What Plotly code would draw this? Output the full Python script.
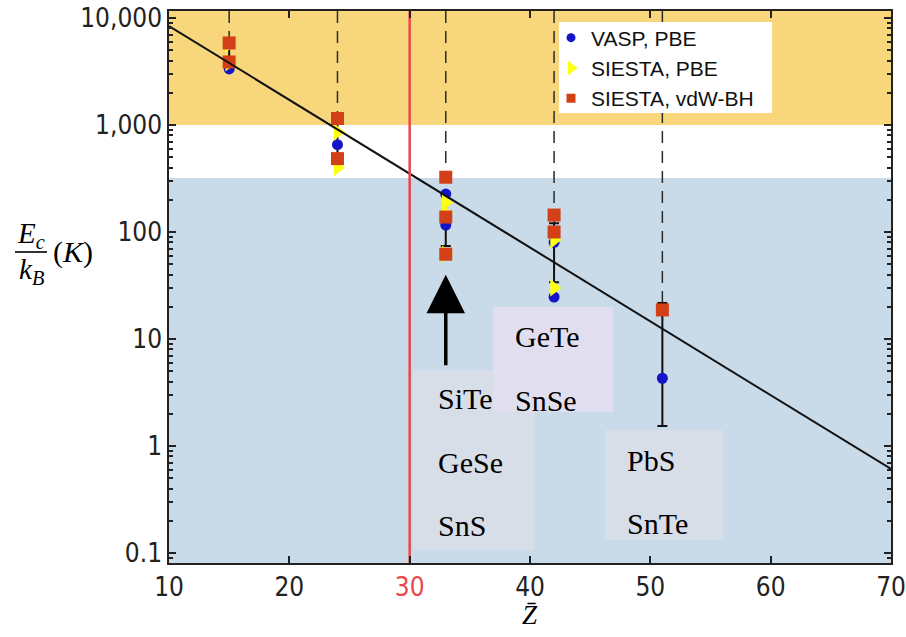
import plotly.graph_objects as go

# Average atomic number of each compound group
z_groups = [15, 24, 33, 42, 51]

# Ec/kB (K) from each calculation method
vasp_z = [15, 24, 33, 33, 42, 42, 51]
vasp_ec = [3340, 655, 226, 116, 80, 24.7, 4.3]

siesta_pbe_z = [15, 15, 24, 24, 33, 33, 33, 42, 42]
siesta_pbe_ec = [5700, 3800, 860, 400, 188, 150, 62, 84, 30]

siesta_vdw_z = [15, 15, 24, 24, 33, 33, 33, 42, 42, 51]
siesta_vdw_ec = [5840, 3880, 1150, 485, 325, 138, 62, 144, 100, 18.7]

# Spread of the results at each Z
err_low = [3800, 470, 74, 34, 1.54]
err_high = [5900, 1230, 226, 121, 21.7]

# Exponential fit
fit_z = [10, 70]
fit_ec = [8400, 0.61]

threshold_z = 30

# Temperature bands (K)
hot_band_min = 1000
cold_band_max = 320

# Compounds per group
group_labels = [["SiTe", "GeSe", "SnS"], ["GeTe", "SnSe"], ["PbS", "SnTe"]]

# Axis ticks
x_ticks = [10, 20, 30, 40, 50, 60, 70]
y_ticks = [0.1, 1, 10, 100, 1000, 10000]
y_ticktext = ["0.1", "1", "10", "100", "1,000", "10,000"]

X_RANGE = [10, 70]
Y_RANGE_LOG = [-1.093, 4.065]
y_bottom = 10 ** Y_RANGE_LOG[0]
y_top = 10 ** Y_RANGE_LOG[1]

YELLOW = "#f8d77c"
BLUE_BG = "#c9dae8"
RED_LINE = "#e8474b"

fig = go.Figure()

# background bands
fig.add_trace(go.Scatter(
    x=[X_RANGE[0], X_RANGE[1], X_RANGE[1], X_RANGE[0]],
    y=[hot_band_min, hot_band_min, y_top, y_top],
    fill="toself", fillcolor=YELLOW, mode="lines", line=dict(width=0),
    hoverinfo="skip", showlegend=False))
fig.add_trace(go.Scatter(
    x=[X_RANGE[0], X_RANGE[1], X_RANGE[1], X_RANGE[0]],
    y=[y_bottom, y_bottom, cold_band_max, cold_band_max],
    fill="toself", fillcolor=BLUE_BG, mode="lines", line=dict(width=0),
    hoverinfo="skip", showlegend=False))

# dashed guides from the top of the frame down to each group
for z, hi in zip(z_groups, err_high):
    fig.add_trace(go.Scatter(
        x=[z, z], y=[y_top, hi], mode="lines",
        line=dict(color="#2a2a2a", width=1.5, dash="12px,8px"),
        hoverinfo="skip", showlegend=False))

# error bars spanning the spread of each group
fig.add_trace(go.Scatter(
    x=z_groups, y=err_low, mode="markers",
    marker=dict(size=1, color="rgba(0,0,0,0)"),
    error_y=dict(type="data", symmetric=False,
                 array=[h - l for h, l in zip(err_high, err_low)],
                 arrayminus=[0] * len(err_low),
                 color="#111111", thickness=2, width=5),
    hoverinfo="skip", showlegend=False))

# data points
fig.add_trace(go.Scatter(
    x=vasp_z, y=vasp_ec, mode="markers", showlegend=False,
    marker=dict(symbol="circle", size=11, color="#1414c8")))
fig.add_trace(go.Scatter(
    x=siesta_pbe_z, y=siesta_pbe_ec, mode="markers", showlegend=False,
    marker=dict(symbol="triangle-right", size=15, color="#ffff10")))
fig.add_trace(go.Scatter(
    x=siesta_vdw_z, y=siesta_vdw_ec, mode="markers", showlegend=False,
    marker=dict(symbol="square", size=13, color="#d33f16")))

# fit line
fig.add_trace(go.Scatter(
    x=fit_z, y=fit_ec, mode="lines", line=dict(color="#111111", width=2),
    hoverinfo="skip", showlegend=False))

# threshold line
fig.add_trace(go.Scatter(
    x=[threshold_z, threshold_z], y=[y_bottom, y_top], mode="lines",
    line=dict(color=RED_LINE, width=2.5), hoverinfo="skip", showlegend=False))

# legend entries
for name, sym, col in [("VASP, PBE", "circle", "#1414c8"),
                       ("SIESTA, PBE", "triangle-right", "#ffff10"),
                       ("SIESTA, vdW-BH", "square", "#d33f16")]:
    fig.add_trace(go.Scatter(
        x=[None], y=[None], mode="markers", name=name,
        marker=dict(symbol=sym, size=9 if sym != "triangle-right" else 13, color=col)))


def px_x(p):
    return (p - 169) / 722


def px_y(p):
    return 1 - (p - 11) / 552


shapes = [
    # legend background
    dict(type="rect", xref="paper", yref="paper", layer="above",
         x0=px_x(559), x1=px_x(772), y0=px_y(113), y1=px_y(22),
         fillcolor="white", line=dict(width=0)),
    # compound label boxes
    dict(type="rect", xref="paper", yref="paper", layer="above",
         x0=px_x(413), x1=px_x(535), y0=px_y(550), y1=px_y(370),
         fillcolor="#d8dee8", line=dict(width=0)),
    dict(type="rect", xref="paper", yref="paper", layer="above",
         x0=px_x(493), x1=px_x(613), y0=px_y(412), y1=px_y(307),
         fillcolor="#e1dfef", line=dict(width=0)),
    dict(type="rect", xref="paper", yref="paper", layer="above",
         x0=px_x(605), x1=px_x(723), y0=px_y(540), y1=px_y(430),
         fillcolor="#d8dee8", line=dict(width=0)),
    # fraction bar of the y-axis title
    dict(type="line", xref="paper", yref="paper",
         x0=px_x(15), x1=px_x(47), y0=px_y(252), y1=px_y(252),
         line=dict(color="black", width=1.6)),
]

serif = "Liberation Serif, Times New Roman, serif"
annotations = []

label_pos = [(436, [398, 462, 525]), (513, [336, 400]), (625, [460, 523])]
for names, (lx, lys) in zip(group_labels, label_pos):
    for name, ly in zip(names, lys):
        annotations.append(dict(
            text=name, xref="paper", yref="paper", x=px_x(lx), y=px_y(ly),
            xanchor="left", yanchor="middle", showarrow=False,
            font=dict(family=serif, size=30, color="black")))

# arrow pointing at the Z = 33 group
annotations.append(dict(
    x=z_groups[2], y=1.60, xref="x", yref="y", ax=0, ay=92,
    showarrow=True, arrowhead=2, arrowsize=2.2, arrowwidth=3.5,
    arrowcolor="black", text=""))

# y-axis title as a fraction
annotations += [
    dict(text="<i>E</i><sub><i>c</i></sub>", xref="paper", yref="paper",
         x=px_x(31), y=px_y(235), showarrow=False, xanchor="center", yanchor="middle",
         font=dict(family=serif, size=29, color="black")),
    dict(text="<i>k</i><sub><i>B</i></sub>", xref="paper", yref="paper",
         x=px_x(31), y=px_y(271), showarrow=False, xanchor="center", yanchor="middle",
         font=dict(family=serif, size=29, color="black")),
    dict(text="(<i>K</i>)", xref="paper", yref="paper",
         x=px_x(73), y=px_y(252), showarrow=False, xanchor="center", yanchor="middle",
         font=dict(family=serif, size=30, color="black")),
    dict(text="<i>Z\u0304</i>", xref="paper", yref="paper",
         x=px_x(530), y=px_y(615), showarrow=False, xanchor="center", yanchor="middle",
         font=dict(family=serif, size=27, color="black")),
]

x_ticktext = [f"<span style='color:{RED_LINE}'>{v}</span>" if v == threshold_z else str(v)
              for v in x_ticks]

minor_vals = [m * 10 ** e for e in range(-2, 5) for m in range(2, 10)]

tick_font = dict(family="DejaVu Sans Condensed, Liberation Sans Narrow, Arial Narrow, Liberation Sans",
                 size=26, color="#222222")

fig.update_layout(
    width=906, height=637,
    margin=dict(l=169, r=15, t=11, b=74, autoexpand=False),
    plot_bgcolor="white", paper_bgcolor="white",
    shapes=shapes, annotations=annotations,
    showlegend=True,
    legend=dict(x=px_x(551), y=px_y(17.5), xanchor="left", yanchor="top",
                bgcolor="rgba(0,0,0,0)", borderwidth=0,
                font=dict(family="Liberation Sans, Arial", size=21, color="#111111"),
                tracegroupgap=0, itemwidth=30),
    xaxis=dict(range=X_RANGE, tickmode="array", tickvals=x_ticks, ticktext=x_ticktext,
               ticks="inside", ticklen=7, tickwidth=1.5, tickcolor="#222",
               showline=True, linecolor="#222", linewidth=1.5, mirror="ticks",
               showgrid=False, zeroline=False, tickfont=tick_font, automargin=False),
    yaxis=dict(type="log", range=Y_RANGE_LOG, tickmode="array", tickvals=y_ticks,
               ticktext=y_ticktext, ticks="inside", ticklen=7, tickwidth=1.5,
               tickcolor="#222", showline=True, linecolor="#222", linewidth=1.5,
               mirror="ticks", showgrid=False, zeroline=False, tickfont=tick_font,
               automargin=False,
               minor=dict(tickmode="array", tickvals=minor_vals, ticks="inside",
                          ticklen=4, tickcolor="#222", showgrid=False)),
)

fig.write_html("out.html")
